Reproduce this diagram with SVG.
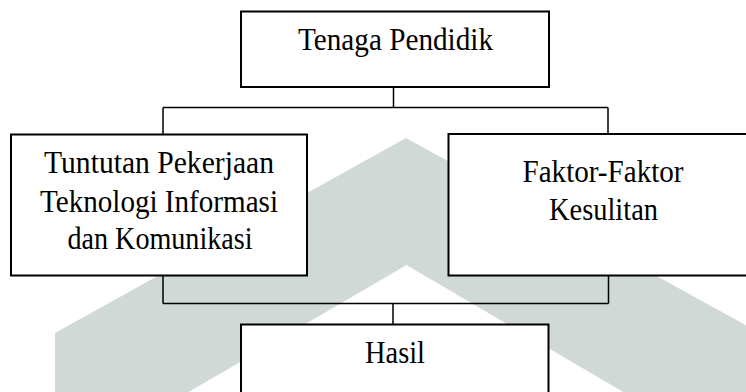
<svg xmlns="http://www.w3.org/2000/svg" width="746" height="392" viewBox="0 0 746 392">
<style>
.box{fill:#ffffff;stroke:#000000;stroke-width:2}
.conn{fill:none;stroke:#000000;stroke-width:1.5}
.lbl{font-family:"Liberation Serif","Times New Roman",serif;font-size:30.5px;fill:#000000;text-anchor:middle}
.wm{fill:#d0d9d6;stroke:none}
</style>
<rect x="0" y="0" width="746" height="392" fill="#ffffff"/>
<g id="watermark">
<polygon class="wm" points="55,393 55,333 406,138 760,333 760,393 625,393 406.5,265 187,393"/>
</g>
<g id="connectors">
<path class="conn" d="M393.5,87 V107.5 M163,107.5 H608 M163,107.5 V134.5 M608,107.5 V134.5"/>
<path class="conn" d="M163,275.5 V303.5 M608.5,275.5 V303.5 M163,303.5 H608.5 M393,303.5 V324.5"/>
</g>
<g id="node-tenaga">
<rect class="box" x="241" y="11.5" width="308" height="75.5"/>
<text class="lbl" x="395.5" y="50" textLength="195" lengthAdjust="spacingAndGlyphs">Tenaga Pendidik</text>
</g>
<g id="node-tuntutan">
<rect class="box" x="11" y="134.5" width="296" height="141"/>
<text class="lbl" x="159" y="173" textLength="230" lengthAdjust="spacingAndGlyphs">Tuntutan Pekerjaan</text>
<text class="lbl" x="159" y="211.5" textLength="238" lengthAdjust="spacingAndGlyphs">Teknologi Informasi</text>
<text class="lbl" x="160" y="249" textLength="185" lengthAdjust="spacingAndGlyphs">dan Komunikasi</text>
</g>
<g id="node-faktor">
<rect class="box" x="448.5" y="134" width="310" height="141.5"/>
<text class="lbl" x="603" y="181.5" textLength="161" lengthAdjust="spacingAndGlyphs">Faktor-Faktor</text>
<text class="lbl" x="603.5" y="219.5" textLength="109" lengthAdjust="spacingAndGlyphs">Kesulitan</text>
</g>
<g id="node-hasil">
<rect class="box" x="241" y="324.5" width="307.5" height="70"/>
<text class="lbl" x="395" y="363" textLength="60" lengthAdjust="spacingAndGlyphs">Hasil</text>
</g>
</svg>
